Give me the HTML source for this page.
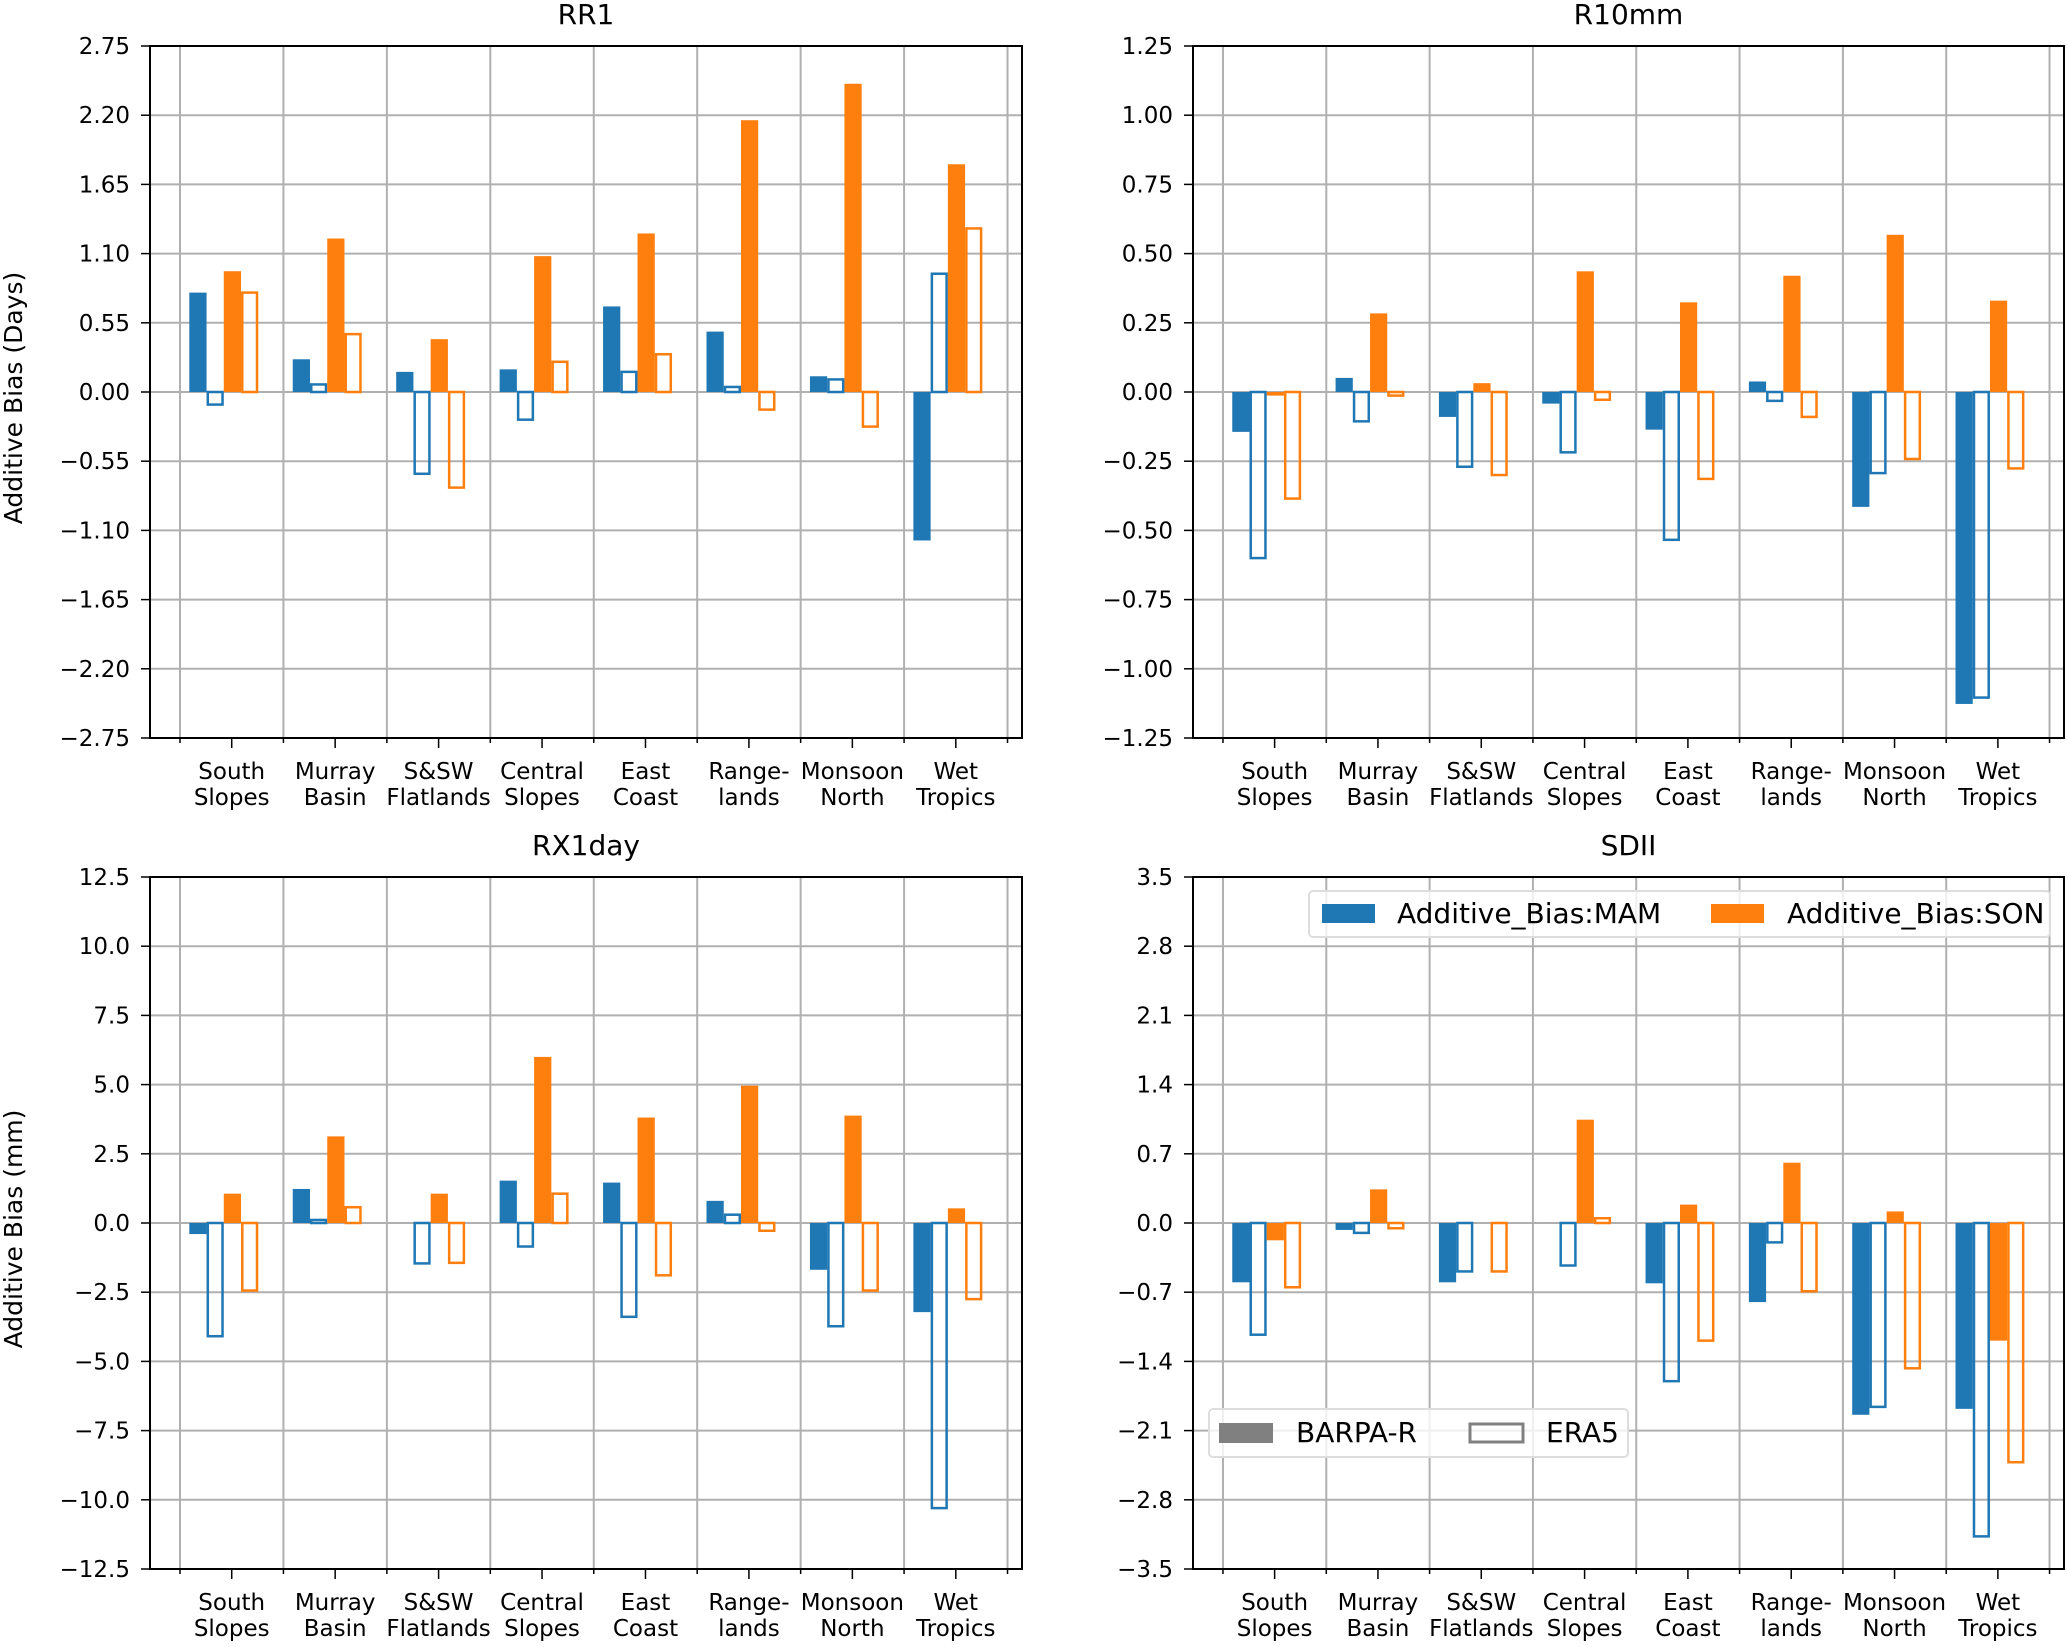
<!DOCTYPE html>
<html><head><meta charset="utf-8"><style>
body{margin:0;background:#fff;}
svg text{font-family:"DejaVu Sans","Liberation Sans",sans-serif;fill:#000;}
</style></head><body>
<svg id="fig" width="2067" height="1642" viewBox="0 0 2067 1642" xmlns="http://www.w3.org/2000/svg"></svg>
<script>
const categories = ["South|Slopes","Murray|Basin","S&SW|Flatlands","Central|Slopes","East|Coast","Range-|lands","Monsoon|North","Wet|Tropics"];
// RR1
const rr1_mam_barpa = [0.79,0.26,0.16,0.18,0.68,0.48,0.125,-1.18];
const rr1_mam_era5  = [-0.10,0.06,-0.65,-0.22,0.16,0.04,0.10,0.94];
const rr1_son_barpa = [0.96,1.22,0.42,1.08,1.26,2.16,2.45,1.81];
const rr1_son_era5  = [0.79,0.46,-0.76,0.24,0.30,-0.14,-0.275,1.30];
const rr1_ticks = [-2.75,-2.20,-1.65,-1.10,-0.55,0,0.55,1.10,1.65,2.20,2.75];
// R10mm
const r10_mam_barpa = [-0.144,0.051,-0.09,-0.042,-0.136,0.038,-0.415,-1.127];
const r10_mam_era5  = [-0.60,-0.106,-0.27,-0.218,-0.534,-0.032,-0.293,-1.104];
const r10_son_barpa = [-0.013,0.284,0.032,0.436,0.324,0.42,0.568,0.33];
const r10_son_era5  = [-0.385,-0.013,-0.30,-0.028,-0.314,-0.09,-0.242,-0.276];
const r10_ticks = [-1.25,-1.00,-0.75,-0.50,-0.25,0,0.25,0.50,0.75,1.00,1.25];
// RX1day
const rx_mam_barpa = [-0.40,1.23,0.0,1.53,1.46,0.80,-1.69,-3.22];
const rx_mam_era5  = [-4.09,0.11,-1.46,-0.85,-3.39,0.30,-3.73,-10.3];
const rx_son_barpa = [1.06,3.13,1.06,6.0,3.81,4.96,3.88,0.53];
const rx_son_era5  = [-2.44,0.57,-1.44,1.06,-1.89,-0.28,-2.44,-2.75];
const rx_ticks = [-12.5,-10,-7.5,-5,-2.5,0,2.5,5,7.5,10,12.5];
// SDII
const sd_mam_barpa = [-0.60,-0.07,-0.60,0.0,-0.61,-0.80,-1.94,-1.88];
const sd_mam_era5  = [-1.13,-0.10,-0.49,-0.43,-1.60,-0.196,-1.86,-3.17];
const sd_son_barpa = [-0.175,0.34,0.0,1.045,0.186,0.61,0.117,-1.19];
const sd_son_era5  = [-0.65,-0.053,-0.49,0.048,-1.19,-0.69,-1.47,-2.42];
const sd_ticks = [-3.5,-2.8,-2.1,-1.4,-0.7,0,0.7,1.4,2.1,2.8,3.5];

const NS="http://www.w3.org/2000/svg";
const svg=document.getElementById('fig');
const BLUE="#1f77b4", ORANGE="#ff7f0e";
function el(tag,attrs,parent){const e=document.createElementNS(NS,tag);for(const k in attrs)e.setAttribute(k,attrs[k]);(parent||svg).appendChild(e);return e;}
function fmt(v,d){const s=Math.abs(v).toFixed(d);return (v<0?"\u2212":"")+s;}

function panel(name,title,box,ticks,dec,series,ylabel){
  const g=el('g',{});
  
  
  const xmin=-0.79,xmax=7.64;
  const ymin=ticks[0],ymax=ticks[ticks.length-1];
  const X=v=>box.x0+(v-xmin)/(xmax-xmin)*(box.x1-box.x0);
  const Y=v=>box.y1-(v-ymin)/(ymax-ymin)*(box.y1-box.y0);
  ticks.forEach(t=>{const l=el('line',{x1:box.x0,x2:box.x1,y1:Y(t),y2:Y(t),stroke:"#b0b0b0","stroke-width":2},g);
    });
  for(let i=0;i<=categories.length;i++){const x=X(i-0.5);
    const l=el('line',{x1:x,x2:x,y1:box.y0,y2:box.y1,stroke:"#b0b0b0","stroke-width":2},g);
    
    el('line',{x1:x,x2:x,y1:box.y1,y2:box.y1+5,stroke:"#000","stroke-width":1.5},g);}
  const w=1/6;
  series.forEach((s,k)=>{
    s.vals.forEach((v,i)=>{
      const xl=X(i-0.41+k*w), xr=X(i-0.41+(k+1)*w);
      const y0=Y(0), yv=Y(v);
      const top=Math.min(y0,yv), h=Math.max(Math.abs(yv-y0),0.01);
      let r;
      if(s.fill){r=el('rect',{x:xl,y:top,width:xr-xl,height:h,fill:s.color},g);}
      else{r=el('rect',{x:xl+1.25,y:top,width:xr-xl-2.5,height:h,fill:"none",stroke:s.color,"stroke-width":2.5},g);}
      
      
    });
  });
  const sp=el('rect',{x:box.x0,y:box.y0,width:box.x1-box.x0,height:box.y1-box.y0,fill:"none",stroke:"#000","stroke-width":2},g);
  
  ticks.forEach(t=>{el('line',{x1:box.x0-9,x2:box.x0,y1:Y(t),y2:Y(t),stroke:"#000","stroke-width":1.5},g);
    const tx=el('text',{x:box.x0-20,y:Y(t)+8,"text-anchor":"end","font-size":23},g);tx.textContent=fmt(t,dec);
    });
  categories.forEach((c,i)=>{const x=X(i);
    el('line',{x1:x,x2:x,y1:box.y1,y2:box.y1+10,stroke:"#000","stroke-width":1.5},g);
    const parts=c.split('|');
    parts.forEach((p,j)=>{const tx=el('text',{x:x,y:box.y1+41+j*26,"text-anchor":"middle","font-size":23},g);tx.textContent=p;
      });
  });
  const tt=el('text',{x:(box.x0+box.x1)/2,y:box.y0-22,"text-anchor":"middle","font-size":28},g);tt.textContent=title;
  
  if(ylabel){
    const yl=el('text',{x:0,y:0,"text-anchor":"middle","font-size":25,transform:`translate(22,${Y(0)+6}) rotate(-90)`},g);yl.textContent=ylabel;
    }
}
const L={x0:150,x1:1022}, R={x0:1193,x1:2064}, T={y0:46,y1:738}, B={y0:877,y1:1569};
function S(a,b,c,d){return [{id:'mam-barpa',vals:a,color:BLUE,fill:true},{id:'mam-era5',vals:b,color:BLUE,fill:false},{id:'son-barpa',vals:c,color:ORANGE,fill:true},{id:'son-era5',vals:d,color:ORANGE,fill:false}];}
panel('rr1','RR1',{...L,...T},rr1_ticks,2,S(rr1_mam_barpa,rr1_mam_era5,rr1_son_barpa,rr1_son_era5),'Additive Bias (Days)');
panel('r10mm','R10mm',{...R,...T},r10_ticks,2,S(r10_mam_barpa,r10_mam_era5,r10_son_barpa,r10_son_era5),null);
panel('rx1day','RX1day',{...L,...B},rx_ticks,1,S(rx_mam_barpa,rx_mam_era5,rx_son_barpa,rx_son_era5),'Additive Bias (mm)');
panel('sdii','SDII',{...R,...B},sd_ticks,1,S(sd_mam_barpa,sd_mam_era5,sd_son_barpa,sd_son_era5),null);
</script>
<svg style="position:absolute;left:0;top:0" width="2067" height="1642">
  <g>
    <rect x="1309" y="891" width="741" height="46" rx="4" fill="#fff" fill-opacity="0.8" stroke="#ddd" stroke-width="2"/>
    <rect x="1322" y="904" width="53" height="19" fill="#1f77b4"/>
    <text x="1397" y="923" font-size="28" style="font-family:'DejaVu Sans','Liberation Sans',sans-serif">Additive_Bias:MAM</text>
    <rect x="1711" y="904" width="53" height="19" fill="#ff7f0e"/>
    <text x="1787" y="923" font-size="28" style="font-family:'DejaVu Sans','Liberation Sans',sans-serif">Additive_Bias:SON</text>
  </g>
  <g>
    <rect x="1209" y="1409" width="419" height="48" rx="4" fill="#fff" fill-opacity="0.8" stroke="#ddd" stroke-width="2"/>
    <rect x="1219" y="1423" width="54" height="20" fill="#808080"/>
    <text x="1296" y="1442" font-size="28" style="font-family:'DejaVu Sans','Liberation Sans',sans-serif">BARPA-R</text>
    <rect x="1470" y="1424" width="53" height="18" fill="none" stroke="#808080" stroke-width="3"/>
    <text x="1546" y="1442" font-size="28" style="font-family:'DejaVu Sans','Liberation Sans',sans-serif">ERA5</text>
  </g>
</svg>
</body></html>
